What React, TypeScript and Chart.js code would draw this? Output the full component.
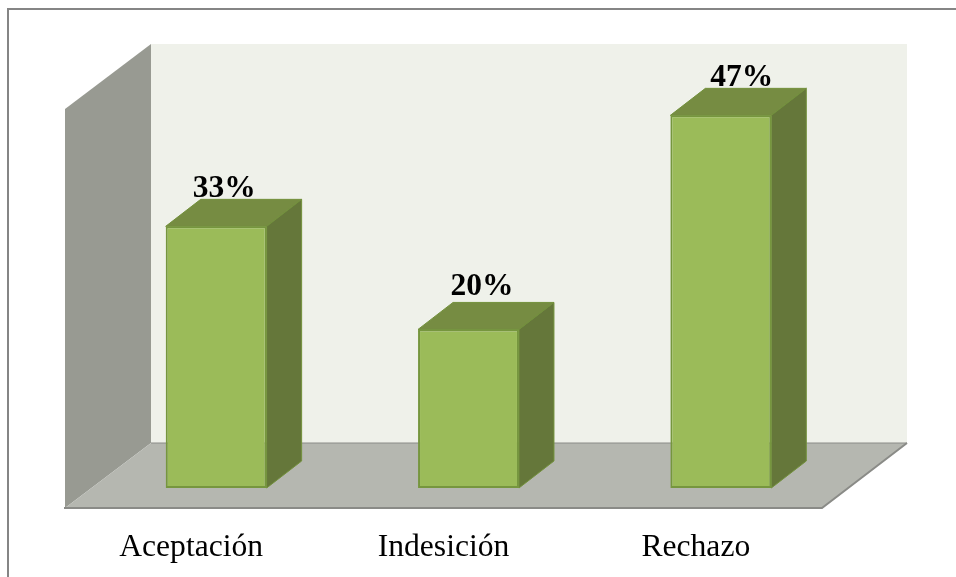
import React, { useEffect, useRef } from "react";
import { Chart, registerables } from "chart.js";

Chart.register(...registerables);

const categories = ["Aceptación", "Indesición", "Rechazo"];
const percentages = [33, 20, 47];
const labelLift = [2, 7, 2];
const labelShift = [8, 13.5, 21];

const SERIF = '"Liberation Serif", "Times New Roman", serif';
const COLORS = {
  frame: "#858585",
  back: "#eff1ea",
  wall: "#989a92",
  floor: "#b5b7b0",
  floorEdge: "#8a8b87",
  front: "#9bbb59",
  frontEdge: "#76963e",
  top: "#768c42",
  side: "#65773a",
  faceEdge: "#73913c",
};
const BAR_DX = 35;
const BAR_DY = 27;

function poly(ctx: CanvasRenderingContext2D, pts: number[][], fill: string, edge?: string) {
  ctx.beginPath();
  pts.forEach(([x, y], i) => (i ? ctx.lineTo(x, y) : ctx.moveTo(x, y)));
  ctx.closePath();
  ctx.fillStyle = fill;
  ctx.fill();
  if (edge) {
    ctx.strokeStyle = edge;
    ctx.lineWidth = 1;
    ctx.stroke();
  }
}

function line(ctx: CanvasRenderingContext2D, pts: number[][], color: string, w: number) {
  ctx.beginPath();
  pts.forEach(([x, y], i) => (i ? ctx.lineTo(x, y) : ctx.moveTo(x, y)));
  ctx.strokeStyle = color;
  ctx.lineWidth = w;
  ctx.stroke();
}

const scene3d = {
  id: "scene3d",
  beforeDatasetsDraw(chart: any) {
    const ctx: CanvasRenderingContext2D = chart.ctx;
    const { left: l, right: r, top: t, bottom: b } = chart.chartArea;
    ctx.save();
    // page frame: top and left rules
    line(ctx, [[8, 577], [8, 9], [956, 9]], COLORS.frame, 2);
    const fx0 = l - 25;
    const fx1 = r - 25;
    const bx0 = l + 61;
    const bx1 = r + 60;
    const by = b - 45;
    const fy = b + 20;
    poly(ctx, [[bx0, t], [bx1, t], [bx1, by], [bx0, by]], COLORS.back);
    poly(ctx, [[bx0, t], [fx0, t + 65], [fx0, fy], [bx0, by]], COLORS.wall);
    poly(ctx, [[bx0, by], [bx1, by], [fx1, fy], [fx0, fy]], COLORS.floor);
    line(ctx, [[bx0, by], [bx1, by]], COLORS.floorEdge, 1);
    line(ctx, [[bx1, by], [fx1, fy], [fx0 - 1, fy]], COLORS.floorEdge, 2);
    // bar top and side faces, from the library's bar elements
    chart.getDatasetMeta(0).data.forEach((bar: any) => {
      const x0 = bar.x - bar.width / 2;
      const x1 = bar.x + bar.width / 2;
      poly(ctx, [[x0, bar.y], [x0 + BAR_DX, bar.y - BAR_DY], [x1 + BAR_DX, bar.y - BAR_DY], [x1, bar.y]], COLORS.top, COLORS.faceEdge);
      poly(ctx, [[x1, bar.y], [x1 + BAR_DX, bar.y - BAR_DY], [x1 + BAR_DX, bar.base - BAR_DY], [x1, bar.base]], COLORS.side, COLORS.faceEdge);
    });
    ctx.restore();
  },
  afterDatasetsDraw(chart: any) {
    const ctx: CanvasRenderingContext2D = chart.ctx;
    ctx.save();
    ctx.font = `bold 31.5px ${SERIF}`;
    ctx.fillStyle = "#000";
    ctx.textAlign = "center";
    ctx.textBaseline = "alphabetic";
    chart.getDatasetMeta(0).data.forEach((bar: any, i: number) => {
      ctx.fillText(`${percentages[i]}%`, bar.x + labelShift[i], bar.y - BAR_DY - labelLift[i]);
    });
    ctx.restore();
  },
};

export default function App() {
  const ref = useRef<HTMLCanvasElement>(null);
  useEffect(() => {
    const chart = new Chart(ref.current!, {
      type: "bar",
      data: {
        labels: categories,
        datasets: [
          {
            data: percentages,
            backgroundColor: COLORS.front,
            borderColor: COLORS.frontEdge,
            borderWidth: 2,
            borderSkipped: false,
            categoryPercentage: 1,
            barPercentage: 0.4,
          },
        ],
      },
      options: {
        responsive: false,
        animation: false,
        layout: { padding: { left: 90, right: 109, top: 44, bottom: 0 } },
        plugins: { legend: { display: false }, tooltip: { enabled: false } },
        scales: {
          x: {
            border: { display: false },
            grid: { display: false, drawTicks: false },
            afterFit: (s: any) => {
              s.height = 89;
            },
            ticks: {
              padding: 41,
              labelOffset: -25,
              maxRotation: 0,
              color: "#000",
              font: { family: SERIF, size: 31.6 },
            },
          },
          y: { display: false, min: 0, max: 56 },
        },
      },
      plugins: [scene3d],
    } as any);
    return () => chart.destroy();
  }, []);
  return (
    <canvas
      ref={ref}
      width={956}
      height={577}
      style={{ position: "absolute", left: 0, top: 0, display: "block", width: 956, height: 577 }}
    />
  );
}
